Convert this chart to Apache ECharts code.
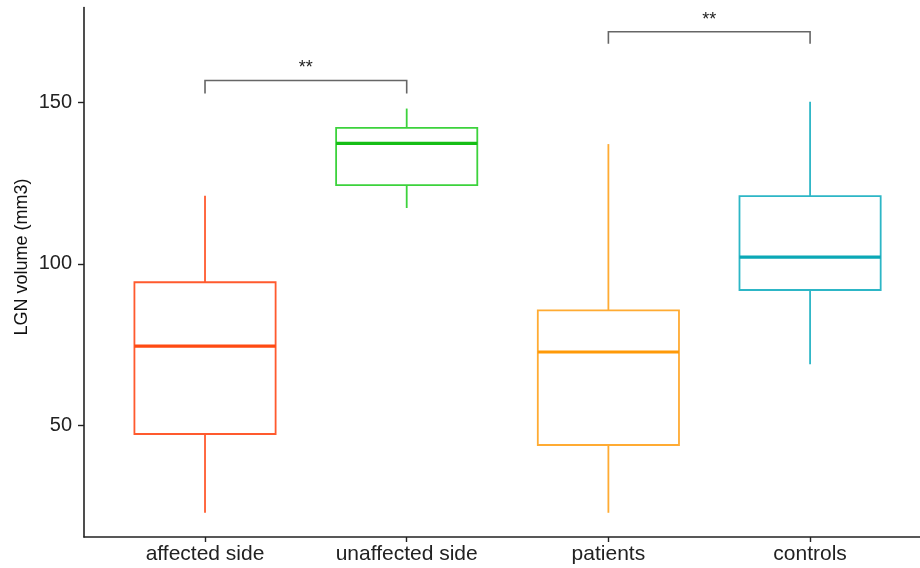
<!DOCTYPE html>
<html>
<head>
<meta charset="utf-8">
<script src="https://cdn.jsdelivr.net/npm/echarts@6/dist/echarts.min.js"></script>
<style>html,body{margin:0;padding:0;background:#fff}#c{width:920px;height:568px}</style>
</head>
<body>
<div id="c"></div>
<script>
const categories = ['affected side', 'unaffected side', 'patients', 'controls'];
const mins    = [22.9, 117.3, 22.9, 68.9];
const q1s     = [47.3, 124.4, 43.9, 91.9];
const medians = [74.5, 137.3, 72.7, 102.1];
const q3s     = [94.3, 142.1, 85.6, 121.0];
const maxs    = [121.1, 148.1, 137.1, 150.2];
const boxColors    = ['#FF5A2E', '#3CD23C', '#FFAB33', '#2DB6C6'];
const medianColors = ['#FF4A12', '#16BE16', '#FF9A08', '#0BA8B6'];
const yTicks = [50, 100, 150];
const yTitle = 'LGN volume (mm3)';
// significance brackets: [from index, to index, bracket value, tick end value, label]
const bracketFrom  = [0, 2];
const bracketTo    = [1, 3];
const bracketY     = [156.8, 171.9];
const bracketDrop  = [152.8, 168.2];
const bracketLabel = ['**', '**'];

const FONT = "'Liberation Sans', Arial, sans-serif";

const boxData = categories.map((c, i) => [i + 1, mins[i], q1s[i], medians[i], q3s[i], maxs[i], i]);
const bracketData = bracketFrom.map((f, i) => [f + 1, bracketTo[i] + 1, bracketY[i], bracketDrop[i], i]);

const chart = echarts.init(document.getElementById('c'), null, {renderer: 'canvas'});
chart.setOption({
  animation: false,
  backgroundColor: '#fff',
  grid: {left: 84, right: 0, top: 7.5, bottom: 31, containLabel: false},
  graphic: [{
    type: 'text', x: 22, y: 257, rotation: Math.PI / 2,
    style: {text: yTitle, font: '18px ' + FONT, fill: '#111', align: 'center', verticalAlign: 'middle'}
  }],
  xAxis: {
    type: 'value', min: 0.4, max: 4.545,
    axisLine: {show: true, lineStyle: {color: '#222', width: 1.6}},
    axisTick: {show: true, length: 5, lineStyle: {color: '#222', width: 1.4}, customValues: [1, 2, 3, 4]},
    axisLabel: {show: true, customValues: [1, 2, 3, 4], margin: 7, fontSize: 21, color: '#222', fontFamily: FONT,
      formatter: v => categories[Math.round(v) - 1] || ''},
    splitLine: {show: false}
  },
  yAxis: {
    type: 'value', min: 15.4, max: 179.4,
    axisLine: {show: true, lineStyle: {color: '#222', width: 1.6}},
    axisTick: {show: true, length: 6, lineStyle: {color: '#222', width: 1.4}, customValues: yTicks},
    axisLabel: {show: true, customValues: yTicks, margin: 12, fontSize: 20, color: '#222', fontFamily: FONT},
    splitLine: {show: false}
  },
  series: [
    {
      type: 'custom',
      data: boxData,
      clip: false,
      renderItem: function (params, api) {
        const x = api.value(0);
        const idx = api.value(6);
        const half = api.size([0.7, 0])[0] / 2;
        const pMin = api.coord([x, api.value(1)]);
        const pQ1 = api.coord([x, api.value(2)]);
        const pMed = api.coord([x, api.value(3)]);
        const pQ3 = api.coord([x, api.value(4)]);
        const pMax = api.coord([x, api.value(5)]);
        const col = boxColors[idx];
        const mcol = medianColors[idx];
        const st = {stroke: col, lineWidth: 1.8, fill: null};
        return {
          type: 'group',
          children: [
            {type: 'line', shape: {x1: pMax[0], y1: pMax[1], x2: pQ3[0], y2: pQ3[1]}, style: st},
            {type: 'line', shape: {x1: pQ1[0], y1: pQ1[1], x2: pMin[0], y2: pMin[1]}, style: st},
            {type: 'rect', shape: {x: pQ3[0] - half, y: pQ3[1], width: half * 2, height: pQ1[1] - pQ3[1]}, style: {stroke: col, lineWidth: 1.8, fill: 'rgba(0,0,0,0)'}},
            {type: 'line', shape: {x1: pMed[0] - half, y1: pMed[1], x2: pMed[0] + half, y2: pMed[1]}, style: {stroke: mcol, lineWidth: 3.2}}
          ]
        };
      }
    },
    {
      type: 'custom',
      data: bracketData,
      clip: false,
      renderItem: function (params, api) {
        const a = api.coord([api.value(0), api.value(2)]);
        const b = api.coord([api.value(1), api.value(2)]);
        const a2 = api.coord([api.value(0), api.value(3)]);
        const b2 = api.coord([api.value(1), api.value(3)]);
        const idx = api.value(4);
        return {
          type: 'group',
          children: [
            {type: 'polyline', shape: {points: [a2, a, b, b2]}, style: {stroke: '#666', lineWidth: 1.6, fill: null}},
            {type: 'text', x: (a[0] + b[0]) / 2, y: a[1] - 3,
              style: {text: bracketLabel[idx], fill: '#222', font: '18px ' + FONT, align: 'center', verticalAlign: 'bottom'}}
          ]
        };
      }
    }
  ]
});
</script>
</body>
</html>
